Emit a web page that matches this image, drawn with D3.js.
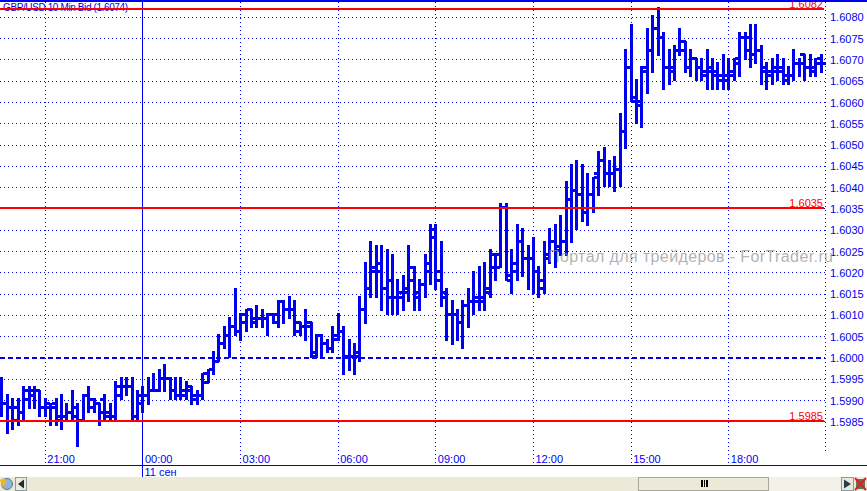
<!DOCTYPE html>
<html><head><meta charset="utf-8">
<style>html,body{margin:0;padding:0;background:#fff;overflow:hidden}svg{display:block}</style>
<script src="https://cdn.jsdelivr.net/npm/d3@7"></script></head>
<body><svg id="c" width="867" height="491"></svg>
<script>
const title = "GBP/USD 10 Min Bid (1.6074)";
const basePrice = 1.6;
// values in pips relative to basePrice
const highs = [-5,-9,-10,-10,-7,-7,-7,-8,-10,-11,-10,-9,-11,-8,-11,-9,-7,-10,-11,-9,-11,-6,-5,-5,-5,-8,-7,-5,-4,-3,-2,-5,-5,-5,-6,-7,-8,-4,-3,1,5,7,9,16,10,11,11,12,11,10,10,13,13,14,13,8,11,8,5,5,4,7,10,7,4,3,14,22,27,26,26,25,24,18,19,26,21,18,24,31,31,27,16,13,11,13,16,20,21,22,25,24,36,36,25,31,30,26,28,21,27,30,31,33,41,45,46,45,43,42,48,49,46,47,57,72,78,65,68,77,80,82,76,72,73,77,74,72,70,70,72,70,69,71,70,70,76,76,78,78,73,69,70,71,70,68,72,70,71,71,70,71];
const lows = [-14,-18,-17,-16,-15,-12,-12,-14,-14,-16,-16,-17,-15,-15,-21,-15,-13,-13,-16,-15,-15,-15,-10,-9,-15,-15,-13,-11,-8,-8,-8,-10,-10,-10,-10,-11,-11,-10,-6,-4,-1,2,0,5,4,6,7,7,7,5,8,7,8,9,5,5,4,0,0,0,1,1,4,-4,-3,-4,-1,8,14,14,11,10,10,10,11,13,11,11,14,17,16,12,4,3,4,2,7,10,11,11,14,18,21,18,15,18,19,16,15,14,15,22,21,24,24,27,30,32,31,34,38,40,40,39,40,49,60,55,54,62,67,71,63,64,65,71,67,66,65,65,63,63,63,63,63,65,66,70,68,69,64,63,64,65,64,64,65,66,65,66,66,67];
const opens = [-6,-11,-12,-15,-13,-10,-9,-8,-12,-12,-11,-14,-14,-13,-14,-15,-9,-10,-11,-10,-13,-14,-9,-7,-7,-14,-11,-9,-8,-8,-5,-5,-8,-9,-9,-7,-9,-9,-6,-3,-1,3,5,7,6,8,11,9,9,9,10,8,13,11,11,8,7,8,0,5,3,2,4,6,0,0,0,11,16,20,22,16,14,14,15,15,21,15,17,22,28,20,15,10,10,8,12,13,14,13,16,24,24,35,18,20,27,23,23,20,16,24,27,26,27,37,39,38,34,38,43,46,43,43,44,53,68,60,59,68,72,77,75,68,67,72,74,68,70,68,66,67,67,66,65,67,70,75,72,71,72,67,67,68,67,65,66,69,71,68,68,70];
const closes = [-11,-12,-12,-13,-8,-8,-8,-12,-11,-12,-15,-14,-13,-12,-15,-9,-12,-11,-13,-14,-14,-7,-7,-7,-14,-9,-9,-8,-8,-5,-5,-8,-9,-8,-8,-10,-9,-4,-3,-1,3,5,7,6,10,11,8,9,9,10,10,13,11,11,6,7,7,1,5,3,2,5,6,0,0,1,11,16,21,20,16,18,14,14,16,18,14,17,20,30,18,14,10,10,8,12,13,13,14,15,21,21,35,19,22,27,23,23,20,18,23,27,25,27,37,39,38,34,38,42,46,43,43,44,53,68,61,60,67,72,77,75,68,68,72,72,68,70,68,67,68,66,65,66,66,69,75,75,71,72,68,66,67,68,66,66,69,69,68,67,69,69];
const hourLabels = ["21:00","00:00","03:00","06:00","09:00","12:00","15:00","18:00"];
const hourBars = [8,26,44,62,80,98,116,134];
const dateLabel = "11 сен";
const dateBar = 26;
const gridPrices = [1.5985,1.599,1.5995,1.6,1.6005,1.601,1.6015,1.602,1.6025,1.603,1.6035,1.604,1.6045,1.605,1.6055,1.606,1.6065,1.607,1.6075,1.608];
const levelValues = [1.60817,1.6035,1.5985];
const levelLabels = ["1.6082","1.6035","1.5985"];
const dashedLevel = 1.6;
const watermark = "Портал для трейдеров - ForTrader.ru";

const BLUE="#0000f0", RED="#ff0000", FONT="'Liberation Sans',Arial,sans-serif";
const svg=d3.select("#c");
const plotRight=825, axisY=465.5;
const x=d3.scaleLinear().domain([0,151]).range([1.9,821]);
const y=d3.scaleLinear().domain([1.5985,1.608]).range([420.6,16.2]);
const gridY=p=>y(p)+1.2;
const snap=v=>Math.round(v-.5)+.5;
const crisp=g=>g.attr("shape-rendering","crispEdges");

svg.append("rect").attr("width",867).attr("height",491).attr("fill","#fff");

// grid
const grid=svg.append("g").call(crisp).attr("stroke",BLUE).attr("fill","none");
grid.selectAll("line.h").data(gridPrices.filter(p=>p!==dashedLevel)).join("line").attr("class","h")
  .attr("x1",0).attr("x2",plotRight).attr("y1",d=>snap(gridY(d))).attr("y2",d=>snap(gridY(d)))
  .attr("stroke-dasharray","1 3");
grid.selectAll("line.v").data(hourBars.filter(b=>b!==dateBar)).join("line").attr("class","v")
  .attr("x1",d=>snap(x(d))).attr("x2",d=>snap(x(d))).attr("y1",2).attr("y2",axisY)
  .attr("stroke-dasharray","1 3");
grid.append("line").attr("x1",plotRight+.5).attr("x2",plotRight+.5).attr("y1",2).attr("y2",451).attr("stroke-dasharray","1 3");
// session separator
grid.append("line").attr("x1",142.5).attr("x2",142.5).attr("y1",0).attr("y2",477).attr("stroke-width",1);

// axis texts
const gridText=svg.append("g").attr("font-family",FONT).attr("font-size",11).attr("fill",BLUE);
gridText.selectAll("text").data(gridPrices).join("text")
  .attr("x",830).attr("y",d=>gridY(d)+4).text(d=>d.toFixed(4));
const hourG=svg.append("g").attr("font-family",FONT).attr("font-size",11).attr("fill",BLUE);
hourG.selectAll("text").data(hourLabels).join("text")
  .attr("x",(d,i)=>x(hourBars[i])+2).attr("y",463).text(d=>d);
hourG.append("text").attr("x",x(dateBar)+1.5).attr("y",476).text(dateLabel);

// title
svg.append("text").attr("x",3).attr("y",11).attr("font-family",FONT).attr("font-size",10)
  .attr("fill",BLUE).attr("textLength",125).attr("lengthAdjust","spacing").text(title);

// price bars
const idx=d3.range(highs.length);
const price=p=>basePrice+p/10000;
const barX=i=>snap(x(i));
const bars=svg.append("g").call(crisp).attr("stroke",BLUE);
bars.selectAll("line.hl").data(idx).join("line").attr("class","hl").attr("stroke-width",3)
  .attr("x1",barX).attr("x2",barX).attr("y1",i=>Math.round(y(price(highs[i])))-1).attr("y2",i=>Math.round(y(price(lows[i])))+1);
bars.selectAll("line.o").data(idx).join("line").attr("class","o").attr("stroke-width",3)
  .attr("x1",i=>barX(i)-4.5).attr("x2",barX).attr("y1",i=>snap(y(price(opens[i])))).attr("y2",i=>snap(y(price(opens[i]))));
bars.selectAll("line.c").data(idx).join("line").attr("class","c").attr("stroke-width",3)
  .attr("x1",barX).attr("x2",i=>barX(i)+4.5).attr("y1",i=>snap(y(price(closes[i])))).attr("y2",i=>snap(y(price(closes[i]))));

// dashed level
svg.append("line").call(crisp).attr("x1",0).attr("x2",plotRight).attr("y1",Math.round(y(dashedLevel)+1)).attr("y2",Math.round(y(dashedLevel)+1))
  .attr("stroke",BLUE).attr("stroke-width",2).attr("stroke-dasharray","5 3");

// red levels
svg.append("g").attr("font-family",FONT).attr("font-size",11).attr("fill",RED)
  .selectAll("text").data(levelValues).join("text")
  .attr("x",823).attr("y",d=>y(d)-1).attr("text-anchor","end").text((d,i)=>levelLabels[i]);
svg.append("g").call(crisp).attr("stroke",RED).attr("stroke-width",2)
  .selectAll("line").data(levelValues).join("line")
  .attr("x1",0).attr("x2",plotRight-1).attr("y1",d=>Math.round(y(d))).attr("y2",d=>Math.round(y(d)));

// frame
svg.append("rect").attr("x",0).attr("y",0).attr("width",867).attr("height",2).attr("fill",BLUE);
svg.append("rect").attr("x",0).attr("y",465).attr("width",867).attr("height",1).attr("fill",BLUE);

// watermark
svg.append("text").attr("x",548).attr("y",262).attr("font-family",FONT).attr("font-size",16)
  .attr("fill","#8f8f8f").attr("fill-opacity",.7).attr("textLength",285).attr("lengthAdjust","spacing").text(watermark);

// scrollbar chrome
const sb=svg.append("g").call(crisp);
sb.append("rect").attr("x",0).attr("y",477).attr("width",867).attr("height",14).attr("fill","#ece9d8");
sb.append("rect").attr("x",769).attr("y",477).attr("width",72).attr("height",14).attr("fill","#f3f1e7");
sb.append("rect").attr("x",638.5).attr("y",477.5).attr("width",130).attr("height",12.5).attr("fill","#ece9d8").attr("stroke","#aca899");
[701,703.5,706].forEach(v=>sb.append("rect").attr("x",v).attr("y",480).attr("width",1.6).attr("height",7).attr("fill","#000"));
[[15,26],[841,853]].forEach(b=>sb.append("rect").attr("x",b[0]+.5).attr("y",477.5).attr("width",b[1]-b[0]).attr("height",12.5).attr("fill","#ece9d8").attr("stroke","#8a9aa0"));
svg.append("path").attr("d","M24,479.5 L18,484 L24,488.5Z").attr("fill","#1c2b33");
svg.append("path").attr("d","M844,479.5 L851,484 L844,488.5Z").attr("fill","#23404f");
svg.append("circle").attr("cx",7).attr("cy",484).attr("r",5.5).attr("fill","#8fb4d8").attr("stroke","#4f79a8");
svg.append("path").attr("d","M0,480 L4,478 L7,482 L2,487Z").attr("fill","#f0b820");
svg.append("rect").attr("x",856).attr("y",479).attr("width",9).attr("height",10).attr("fill","#5d7a5a");
svg.append("path").attr("d","M855,478 L866,490 M866,478 L855,490").attr("stroke","#e02020").attr("stroke-width",2);
</script></body></html>
